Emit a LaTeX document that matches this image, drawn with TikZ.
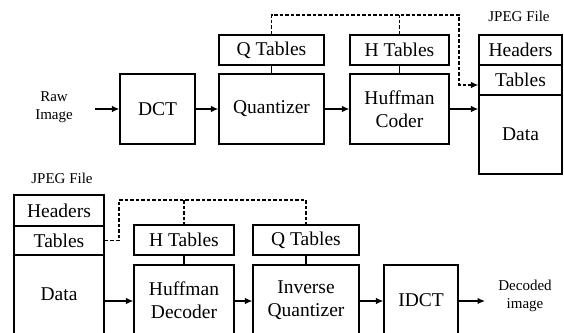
\documentclass[tikz,border=0pt]{standalone}
\usepackage{fontspec}
\setmainfont{Liberation Serif}
\usetikzlibrary{arrows.meta}
\begin{document}
\begin{tikzpicture}[x=1pt,y=-1pt,
  line width=1.25pt,
  blk/.style={draw, line width=1.25pt, inner sep=0pt, align=center,
    font=\fontsize{19.5}{23.4}\selectfont},
  lbl/.style={inner sep=0pt, align=center, font=\fontsize{15}{18}\selectfont},
  arr/.style={-{Latex[length=7.5pt,width=6.5pt]}},
  dsh/.style={dash pattern=on 3.5pt off 2pt, line width=1.15pt}]
\useasboundingbox (0,0) rectangle (564,332);
\clip (0,0) rectangle (564,332);

% ---------- encoder ----------
\node[lbl] (raw) at (54,107) {Raw\\Image};
\coordinate (rawout) at (95,109);
\node[blk, minimum width=75pt, minimum height=70pt] (dct) at (157.5,109) {DCT};
\node[blk, minimum width=105pt, minimum height=70pt] (quant) at (271.5,109) {Quantizer};
\node[blk, minimum width=105pt, minimum height=30pt] (qtab) at (271.5,50) {Q Tables};
\node[blk, minimum width=99pt, minimum height=70pt] (huff) at (399.5,109) {Huffman\\Coder};
\node[blk, minimum width=99pt, minimum height=30pt] (htab) at (399.5,50) {H Tables};

% output file
\node[lbl] (jf1) at (519,16) {JPEG File};
\node[blk, minimum width=83pt, minimum height=30pt] (hdr1) at (520.5,50) {Headers};
\node[blk, minimum width=83pt, minimum height=30pt] (tab1) at (520.5,80) {Tables};
\node[blk, minimum width=83pt, minimum height=79pt] (dat1) at (520.5,134.5) {Data};

\draw[arr] (rawout) -- (dct.west |- rawout);
\draw[arr] (dct.east) -- (quant.west);
\draw[arr] (quant.east) -- (huff.west);
\draw[arr] (huff.east) -- (huff.east -| dat1.west);
\draw (qtab.south) -- (quant.north);
\draw (htab.south) -- (huff.north);

\coordinate (ebend) at (459,15);
\draw[dsh] (htab.north) -- (htab.north |- ebend);
\draw[dsh, arr] (qtab.north) |- (ebend) |- ([yshift=-5pt]tab1.west);

% ---------- decoder ----------
\node[lbl] (jf2) at (62,178) {JPEG File};
\node[blk, minimum width=90pt, minimum height=31pt] (hdr2) at (59,210.5) {Headers};
\node[blk, minimum width=90pt, minimum height=29pt] (tab2) at (59,240.5) {Tables};
\node[blk, minimum width=90pt, minimum height=79pt] (dat2) at (59,294.5) {Data};

\node[blk, minimum width=100pt, minimum height=30pt] (htab2) at (184,240) {H Tables};
\node[blk, minimum width=100pt, minimum height=70pt] (hdec) at (184,300) {Huffman\\Decoder};
\node[blk, minimum width=106pt, minimum height=30pt] (qtab2) at (306,240) {Q Tables};
\node[blk, minimum width=106pt, minimum height=70pt] (iq) at (306,300) {Inverse\\Quantizer};
\node[blk, minimum width=74pt, minimum height=70pt] (idct) at (421,300) {IDCT};
\node[lbl] (dec) at (525,296) {Decoded\\image};
\coordinate (decin) at (485,301);

\draw[arr] (dat2.east |- 0,301) -- (hdec.west |- 0,301);
\draw[arr] (hdec.east |- 0,301) -- (iq.west |- 0,301);
\draw[arr] (iq.east |- 0,301) -- (idct.west |- 0,301);
\draw[arr] (idct.east |- decin) -- (decin);
\draw (htab2.south) -- (hdec.north);
\draw (qtab2.south) -- (iq.north);

\coordinate (dbend) at (119,200);
\draw[dsh] (tab2.east) -| (dbend) -- (qtab2.north |- dbend) -- (qtab2.north);
\draw[dsh] (htab2.north |- dbend) -- (htab2.north);
\end{tikzpicture}
\end{document}
